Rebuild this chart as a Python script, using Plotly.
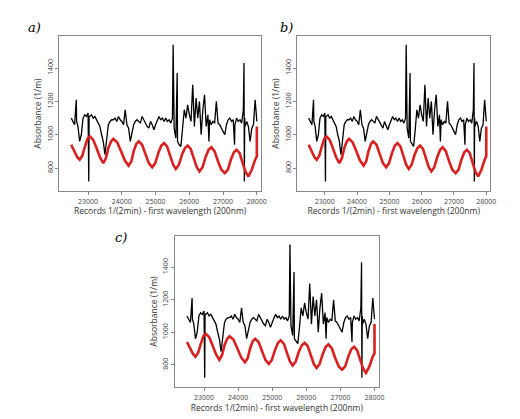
import plotly.graph_objects as go

# black series (absorbance, records)
black_x = [22500, 22550, 22600, 22650, 22660, 22700, 22750, 22800, 22850, 22900, 22950, 23000, 23020, 23030,
           23050, 23100, 23150, 23200, 23250, 23300, 23350, 23400, 23450, 23500, 23550, 23600, 23650,
           23700, 23750, 23800, 23850, 23900, 23950, 24000, 24050, 24100, 24150, 24200, 24250, 24300,
           24350, 24400, 24450, 24500, 24550, 24600, 24650, 24700, 24750, 24800, 24850, 24900, 24950,
           25000, 25050, 25100, 25150, 25200, 25250, 25300, 25350, 25400, 25450, 25500, 25520, 25530,
           25550, 25600, 25640, 25650, 25700, 25750, 25800, 25850, 25900, 25950, 26000, 26050, 26100,
           26150, 26200, 26250, 26300, 26350, 26400, 26450, 26500, 26550, 26580, 26600, 26650, 26700,
           26750, 26800, 26850, 26900, 26950, 27000, 27050, 27100, 27150, 27200, 27250, 27300, 27340,
           27350, 27400, 27450, 27500, 27550, 27600, 27620, 27630, 27640, 27650, 27700, 27750, 27800,
           27850, 27900, 27950, 28000]
black_y = [1100, 1080, 1060, 1210, 1080, 1050, 960, 1000, 1100, 1120, 1110, 1130, 720, 1110,
           1110, 1120, 1100, 1110, 1090, 1070, 1050, 1000, 960, 880, 990, 1060, 1080,
           1090, 1090, 1100, 1080, 1110, 1090, 1080, 1060, 1150, 1060, 1040, 960, 1020,
           1060, 1080, 1090, 1080, 1070, 1110, 1090, 1070, 1050, 1040, 1080, 1060, 1030,
           1060, 1090, 1110, 1090, 1100, 1080, 1100, 1080, 1090, 1070, 1100, 1540, 1040,
           1040, 980, 1370, 960, 940, 930, 1030, 1150, 1100, 1180, 1120, 1080, 1300,
           1050, 1220, 1100, 1200, 1000, 1150, 1240, 1050, 1120, 960, 1090, 1060, 1080,
           1070, 1200, 1070, 1060, 1040, 1020, 1000, 1060, 1090, 1100, 1080, 1090, 940,
           1060, 1100, 1080, 1090, 1070, 1150, 1430, 720, 1100, 1050, 1080, 1050, 960,
           1040, 1060, 1210, 1080]

# red series
red_x = [22500, 22600, 22680, 22750, 22830, 22900, 22980, 23050, 23150, 23250, 23350, 23450,
         23530, 23600, 23680, 23750, 23860, 23980, 24090, 24200, 24280, 24350, 24430, 24500,
         24600, 24700, 24800, 24900, 24990, 25080, 25170, 25250, 25340, 25430, 25520, 25600,
         25690, 25780, 25870, 25950, 26040, 26130, 26220, 26300, 26390, 26480, 26570, 26650,
         26750, 26850, 26950, 27050, 27140, 27230, 27320, 27400, 27490, 27580, 27670, 27750,
         27850, 27950, 28000, 28000]
red_y = [940, 900, 865, 850, 875, 925, 975, 990, 970, 920, 865, 830,
         860, 920, 960, 975, 955, 900, 845, 815, 840, 900, 945, 960,
         940, 885, 830, 805, 830, 890, 935, 950, 930, 875, 820, 795,
         820, 880, 920, 935, 915, 860, 805, 780, 805, 865, 910, 925,
         900, 840, 790, 770, 790, 850, 895, 910, 890, 830, 775, 750,
         790, 850, 870, 1050]

panels = [("a)", [0.100, 0.492], [0.563, 0.933], 0.035, 0.975),
          ("b)", [0.563, 0.938], [0.563, 0.933], 0.525, 0.975),
          ("c)", [0.325, 0.721], [0.095, 0.456], 0.205, 0.475)]

fig = go.Figure()
for i, (lab, xd, yd, lx, ly) in enumerate(panels):
    n = "" if i == 0 else str(i + 1)
    fig.add_trace(go.Scatter(x=black_x, y=black_y, mode="lines", line=dict(color="black", width=1.3),
                             xaxis="x" + n, yaxis="y" + n, showlegend=False))
    fig.add_trace(go.Scatter(x=red_x, y=red_y, mode="lines", line=dict(color="#d82020", width=2.6),
                             xaxis="x" + n, yaxis="y" + n, showlegend=False))
    ax = dict(domain=xd, range=[22150, 28120], tickvals=[23000, 24000, 25000, 26000, 27000, 28000],
              ticktext=["23000", "24000", "25000", "26000", "27000", "28000"],
              showgrid=False, zeroline=False, showline=True, mirror=True, linecolor="#888",
              ticks="outside", ticklen=3, tickcolor="#888", tickfont=dict(size=7, color="#444"),
              title=dict(text="Records 1/(2min) - first wavelength (200nm)", font=dict(size=8.5, color="#333"), standoff=2),
              anchor="y" + n)
    ay = dict(domain=yd, range=[662, 1592], tickvals=[800, 1000, 1200, 1400], tickangle=-90,
              showgrid=False, zeroline=False, showline=True, mirror=True, linecolor="#888",
              ticks="outside", ticklen=3, tickcolor="#888", tickfont=dict(size=7, color="#444"),
              title=dict(text="Absorbance (1/m)", font=dict(size=8.5, color="#333"), standoff=2),
              anchor="x" + n)
    fig.update_layout(**{"xaxis" + n: ax, "yaxis" + n: ay})
    fig.add_annotation(text="<i>" + lab + "</i>", x=lx, y=ly, xref="paper", yref="paper", showarrow=False,
                       font=dict(family="DejaVu Serif", size=13, color="black"), xanchor="left", yanchor="top")

fig.update_layout(width=520, height=419, margin=dict(l=0, r=0, t=0, b=0),
                  paper_bgcolor="white", plot_bgcolor="white")
fig.write_html("out.html")
